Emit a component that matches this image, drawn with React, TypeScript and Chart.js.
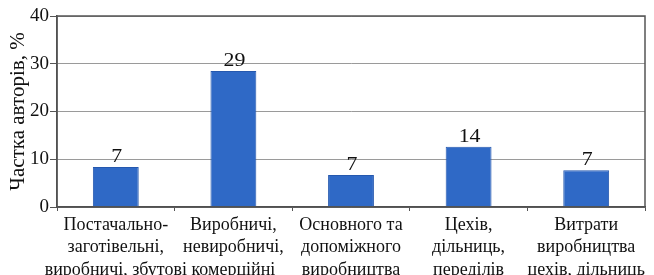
import React, { useEffect, useRef } from "react";
import { Chart, registerables } from "chart.js";

Chart.register(...registerables);

const categories: string[][] = [
  ["Постачально-", "заготівельні,", "виробничі, збутові"],
  ["Виробничі,", "невиробничі,", "комерційні"],
  ["Основного та", "допоміжного", "виробництва"],
  ["Цехів,", "дільниць,", "переділів"],
  ["Витрати", "виробництва", "цехів, дільниць"],
];
const barHeights: number[] = [8.4, 28.5, 6.7, 12.6, 7.7];
const valueLabels: string[] = ["7", "29", "7", "14", "7"];
const yTicks: number[] = [0, 10, 20, 30, 40];
const yTitle = "Частка авторів, %";

const FONT = "'Liberation Serif', 'Times New Roman', serif";

export default function App() {
  const ref = useRef<HTMLCanvasElement | null>(null);
  useEffect(() => {
    document.body.style.margin = "0";
    const canvas = ref.current!;
    const overlayPlugin = {
      id: "overlay",
      afterDraw(chart: any) {
        const { ctx, chartArea } = chart;
        ctx.save();
        ctx.strokeStyle = "#555";
        ctx.lineWidth = 1.5;
        ctx.strokeRect(chartArea.left, chartArea.top, chartArea.right - chartArea.left, chartArea.bottom - chartArea.top);
        ctx.restore();

        const meta = chart.getDatasetMeta(0);
        ctx.save();
        ctx.fillStyle = "#111";
        ctx.font = `19px ${FONT}`;
        meta.data.forEach((bar: any, i: number) => {
          ctx.save();
          ctx.translate(bar.x + 1, bar.y - 5);
          ctx.scale(1.15, 1);
          ctx.textAlign = "center";
          ctx.textBaseline = "alphabetic";
          ctx.fillText(valueLabels[i], 0, 0);
          ctx.restore();
        });
        ctx.restore();
      },
    };
    const chart = new Chart(canvas, {
      type: "bar",
      data: {
        labels: categories,
        datasets: [
          {
            data: barHeights,
            backgroundColor: "#2f69c6",
            borderColor: "#2558ae",
            borderWidth: 1,
            categoryPercentage: 1,
            barPercentage: 0.39,
          },
        ],
      },
      options: {
        animation: false,
        responsive: false,
        maintainAspectRatio: false,
        layout: { padding: { left: 0, top: 16, right: 9, bottom: 0 } },
        plugins: { legend: { display: false }, tooltip: { enabled: false } },
        scales: {
          x: {
            offset: true,
            grid: {
              offset: true,
              drawOnChartArea: false,
              drawTicks: true,
              tickLength: 4,
              color: "#555",
            },
            border: { display: true, color: "#444", width: 1.5 },
            ticks: {
              autoSkip: false,
              maxRotation: 0,
              minRotation: 0,
              color: "#111",
              padding: 3,
              font: { family: FONT, size: 18, lineHeight: 1.25 },
            },
            afterFit(scale: any) {
              scale.height = 68;
            },
          },
          y: {
            min: 0,
            max: 40,
            afterBuildTicks(scale: any) {
              scale.ticks = yTicks.map((v) => ({ value: v }));
            },
            grid: {
              color: "#9a9a9a",
              lineWidth: 1,
              tickLength: 7,
              tickColor: "#555",
            },
            border: { display: true, color: "#444", width: 1.5 },
            ticks: {
              color: "#111",
              padding: 1,
              font: { family: FONT, size: 19 },
            },
            title: {
              display: true,
              text: yTitle,
              color: "#111",
              font: { family: FONT, size: 21 },
              padding: { top: 6, bottom: 0 },
            },
            afterFit(scale: any) {
              scale.width = 57;
            },
          },
        },
      },
      plugins: [overlayPlugin],
    });
    return () => chart.destroy();
  }, []);
  return (
    <div style={{ position: "relative", width: 654, height: 275, background: "#fff" }}>
      <canvas ref={ref} width={654} height={275} style={{ display: "block" }} />
    </div>
  );
}
